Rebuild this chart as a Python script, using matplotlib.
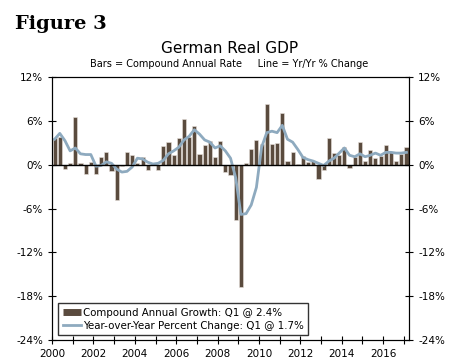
import numpy as np
import matplotlib.pyplot as plt
from matplotlib.ticker import FuncFormatter, MultipleLocator
from matplotlib.lines import Line2D

# quarterly, 2000Q1 .. 2017Q1
bars = [3.7, 3.8, -0.6, 0.2,
        6.6, 0.3, -1.2, 0.4,
        -1.3, 1.0, 1.7, -0.8,
        -4.8, -0.2, 1.8, 1.3,
        0.3, 1.1, -0.7, 0.1,
        -0.7, 2.6, 3.1, 1.4,
        3.7, 6.3, 3.8, 5.3,
        1.5, 2.7, 3.2, 1.0,
        3.3, -1.0, -1.4, -7.6,
        -16.7, 0.2, 2.2, 3.4,
        2.9, 8.3, 2.9, 3.0,
        7.1, 0.5, 1.7, 0.1,
        1.2, 0.4, 0.5, -2.0,
        -0.7, 3.6, 1.6, 1.3,
        2.4, -0.4, 1.0, 3.1,
        0.5, 2.0, 0.9, 1.2,
        2.7, 1.7, 0.5, 1.5,
        2.4]
yoy = [3.5, 4.3, 3.3, 1.9,
       2.3, 1.5, 1.4, 1.4,
       -0.2, -0.1, 0.4, 0.2,
       -0.6, -1.0, -0.9, -0.3,
       0.9, 0.8, 0.35, 0.1,
       0.2, 0.6, 1.5, 1.9,
       2.4, 3.4, 3.9, 4.8,
       4.2, 3.4, 3.1, 2.3,
       2.6, 1.9, 0.9, -1.8,
       -6.8, -6.7, -5.5, -3.1,
       2.4, 4.4, 4.6, 4.4,
       5.4, 3.5, 3.1, 2.1,
       1.0, 0.7, 0.5, 0.2,
       -0.1, 0.5, 0.9, 1.6,
       2.3, 1.3, 1.1, 1.5,
       1.1, 1.3, 1.6, 1.3,
       1.7, 1.7, 1.6, 1.6,
       1.7]

x = 2000 + np.arange(len(bars)) / 4 + 0.125

bar_col = '#5a4b3e'
line_col = '#8eaabf'

fig = plt.figure(figsize=(4.5, 3.64), dpi=100)
ax = fig.add_axes([0.1156, 0.066, 0.7934, 0.722])

ax.bar(x, bars, width=0.2, color=bar_col, edgecolor='#e8e2dc', linewidth=0.4, zorder=2)
ax.plot(x, yoy, color=line_col, lw=2, zorder=3)
ax.axhline(0, color='black', lw=1, zorder=4)

ax.set_xlim(2000, 2017.25)
ax.set_ylim(-24, 12)
ax.xaxis.set_major_locator(MultipleLocator(2))
ax.xaxis.set_minor_locator(MultipleLocator(1))
ax.yaxis.set_major_locator(MultipleLocator(6))
pct = FuncFormatter(lambda v, p: '%d%%' % v)
ax.yaxis.set_major_formatter(pct)
ax.tick_params(axis='both', direction='inout', labelsize=7.5, length=6, width=0.8)
ax.tick_params(axis='x', which='minor', direction='inout', length=6, width=0.8)

ax2 = ax.twinx()
ax2.set_ylim(-24, 12)
ax2.yaxis.set_major_locator(MultipleLocator(6))
ax2.yaxis.set_major_formatter(pct)
ax2.tick_params(axis='y', direction='inout', labelsize=7.5, length=6, width=0.8)

for a in (ax, ax2):
    for s in a.spines.values():
        s.set_linewidth(0.8)

h_bar = Line2D([], [], color=bar_col, lw=5, solid_capstyle='butt')
h_line = Line2D([], [], color=line_col, lw=2)
ax.legend([h_bar, h_line],
          ['Compound Annual Growth: Q1 @ 2.4%', 'Year-over-Year Percent Change: Q1 @ 1.7%'],
          loc='lower left', bbox_to_anchor=(0.018, 0.02),
          fontsize=7.4, frameon=True, fancybox=False, edgecolor='black',
          borderpad=0.4, labelspacing=0.3, handlelength=1.8, handletextpad=0.15,
          borderaxespad=0)

fig.text(0.033, 0.92, 'Figure 3', fontsize=14, fontweight='bold', family='DejaVu Serif',
         va='baseline')
fig.text(0.51, 0.855, 'German Real GDP', fontsize=11, ha='center')
fig.text(0.51, 0.815, 'Bars = Compound Annual Rate     Line = Yr/Yr % Change', fontsize=7, ha='center')

fig.savefig('out.png', dpi=100)
